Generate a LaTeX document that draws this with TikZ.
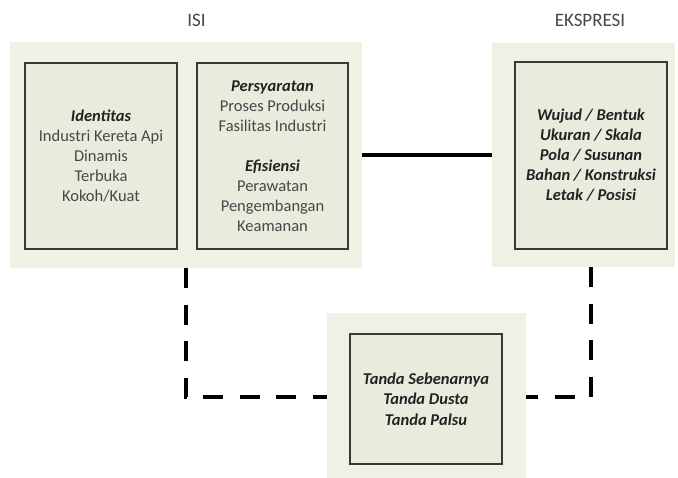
\documentclass[tikz,border=0pt]{standalone}
\usepackage{fontspec}
\setmainfont{Carlito}
\definecolor{panelfill}{HTML}{EEF1E4}
\definecolor{boxfill}{HTML}{E7ECDD}
\definecolor{boxline}{HTML}{383838}
\definecolor{txtgray}{HTML}{474747}
\definecolor{txtdark}{HTML}{222222}
\tikzset{
  panel/.style={fill=panelfill, draw=none, inner sep=0pt},
  innerbox/.style={fill=boxfill, draw=boxline, line width=2.4pt, inner sep=0pt, align=center,
     text=txtgray, font=\fontsize{16.5}{20}\selectfont},
  heading/.style={text=txtgray, font=\fontsize{19}{20}\selectfont, inner sep=0pt},
  solidlink/.style={line width=4pt, black},
  dashlink/.style={line width=4pt, black, dash pattern=on 20pt off 16.5pt}
}
\newcommand{\hd}[1]{{\color{txtdark}\bfseries\itshape #1}}
\begin{document}
\begin{tikzpicture}[x=1pt,y=-1pt]
\useasboundingbox (0,0) rectangle (678,478);
% panels
\node[panel, minimum width=352pt, minimum height=226pt] (pL) at (186,155) {};
\node[panel, minimum width=183pt, minimum height=224pt] (pR) at (583.5,155) {};
\node[panel, minimum width=199pt, minimum height=168pt] (pB) at (426.5,397) {};
% headings
\node[heading] (isi) at (196.5,20.5) {ISI};
\node[heading] (eks) at (590,20.5) {EKSPRESI};
% inner boxes
\node[innerbox, minimum width=152pt, minimum height=186pt] (bA) at (101,156)
  {\hd{Identitas}\\Industri Kereta Api\\Dinamis\\Terbuka\\Kokoh/Kuat};
\node[innerbox, minimum width=151pt, minimum height=186pt] (bB) at (272.5,156)
  {\hd{Persyaratan}\\Proses Produksi\\Fasilitas Industri\\[20pt]\hd{Efisiensi}\\Perawatan\\Pengembangan\\Keamanan};
\node[innerbox, minimum width=152pt, minimum height=187pt, text=txtdark, font=\fontsize{16.5}{20}\selectfont\bfseries\itshape] (bC) at (591,155.5)
  {Wujud / Bentuk\\Ukuran / Skala\\Pola / Susunan\\Bahan / Konstruksi\\Letak / Posisi};
\node[innerbox, minimum width=152pt, minimum height=130pt, text=txtdark, font=\fontsize{16.5}{20.5}\selectfont\bfseries\itshape] (bD) at (426,399)
  {Tanda Sebenarnya\\Tanda Dusta\\Tanda Palsu};
% connectors
\draw[solidlink] (pL.east) -- (pR.west);
\draw[dashlink] (pL.south) |- (pB.west);
\draw[dashlink] (bC |- pR.south) |- (pB.east);
\end{tikzpicture}
\end{document}
